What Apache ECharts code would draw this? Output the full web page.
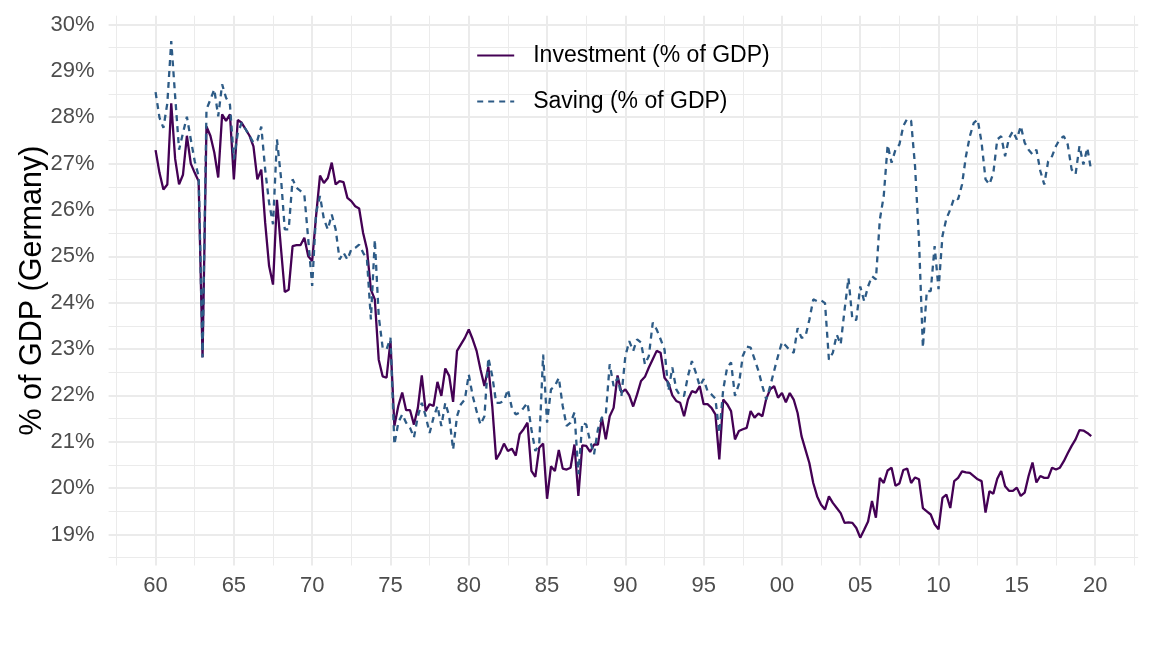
<!DOCTYPE html>
<html>
<head>
<meta charset="utf-8">
<script src="https://cdn.jsdelivr.net/npm/echarts@6/dist/echarts.min.js"></script>
<style>
  html, body { margin: 0; padding: 0; background: #ffffff; }
  #chart { width: 1152px; height: 648px; }
</style>
</head>
<body>
<div id="chart"></div>
<script>
// Quarterly data, 1960Q1 .. 2019Q4 (Germany, % of GDP)
const startYear = 1960;
const investment = [
  27.29, 26.80, 26.44, 26.55, 28.30, 27.10, 26.55, 26.76, 27.60, 27.00, 26.80, 26.62,
  22.82, 27.80, 27.60, 27.24, 26.70, 28.06, 27.92, 28.06, 26.66, 27.94, 27.88, 27.74,
  27.60, 27.37, 26.66, 26.87, 25.72, 24.79, 24.39, 26.22, 25.20, 24.23, 24.28, 25.22,
  25.24, 25.24, 25.40, 25.00, 24.90, 25.87, 26.74, 26.58, 26.69, 27.02, 26.55, 26.62,
  26.60, 26.26, 26.19, 26.08, 26.03, 25.51, 25.15, 24.28, 24.07, 22.77, 22.41, 22.38,
  23.17, 21.34, 21.77, 22.06, 21.68, 21.68, 21.37, 21.73, 22.43, 21.66, 21.81, 21.77,
  22.29, 21.99, 22.58, 22.42, 21.86, 22.96, 23.10, 23.24, 23.42, 23.21, 22.96, 22.56,
  22.20, 22.62, 21.77, 20.62, 20.76, 20.96, 20.80, 20.85, 20.70, 21.16, 21.27, 21.41,
  20.37, 20.24, 20.87, 20.96, 19.77, 20.47, 20.37, 20.82, 20.42, 20.40, 20.44, 20.94,
  19.83, 20.92, 20.91, 20.78, 20.94, 20.94, 21.52, 21.05, 21.55, 21.73, 22.43, 22.06,
  22.13, 22.00, 21.76, 22.02, 22.31, 22.40, 22.60, 22.78, 22.96, 22.92, 22.38, 22.27,
  22.00, 21.88, 21.84, 21.55, 21.91, 22.09, 22.06, 22.20, 21.81, 21.81, 21.73, 21.59,
  20.62, 21.91, 21.81, 21.66, 21.05, 21.23, 21.27, 21.30, 21.66, 21.52, 21.61, 21.55,
  21.93, 22.13, 22.20, 21.95, 22.05, 21.85, 22.05, 21.91, 21.62, 21.12, 20.83, 20.54,
  20.11, 19.82, 19.64, 19.54, 19.82, 19.68, 19.57, 19.46, 19.25, 19.26, 19.25, 19.14,
  18.93, 19.10, 19.28, 19.72, 19.36, 20.22, 20.11, 20.38, 20.44, 20.05, 20.10, 20.39,
  20.42, 20.11, 20.23, 20.19, 19.57, 19.50, 19.43, 19.22, 19.11, 19.79, 19.86, 19.57,
  20.15, 20.22, 20.36, 20.34, 20.33, 20.26, 20.19, 20.15, 19.47, 19.93, 19.88, 20.20,
  20.37, 20.04, 19.94, 19.94, 20.01, 19.83, 19.90, 20.26, 20.55, 20.12, 20.26, 20.22,
  20.22, 20.44, 20.40, 20.44, 20.58, 20.75, 20.91, 21.05, 21.25, 21.24, 21.19, 21.12
];
const saving = [
  28.54, 27.99, 27.77, 28.30, 29.64, 28.45, 27.30, 27.66, 28.01, 27.52, 27.05, 26.73,
  22.82, 28.17, 28.38, 28.60, 28.02, 28.71, 28.42, 28.27, 27.09, 27.66, 27.88, 27.74,
  27.60, 27.45, 27.50, 27.80, 26.87, 26.15, 25.69, 27.52, 26.73, 25.58, 25.58, 26.66,
  26.48, 26.41, 26.33, 25.36, 24.36, 25.94, 26.30, 25.80, 25.58, 25.90, 25.58, 24.93,
  25.08, 24.93, 25.15, 25.18, 25.25, 25.08, 24.93, 23.64, 25.36, 23.71, 23.03, 22.99,
  23.24, 20.94, 21.41, 21.59, 21.41, 21.30, 21.09, 21.55, 21.84, 21.55, 21.19, 21.52,
  21.77, 21.34, 21.84, 21.55, 20.83, 21.55, 21.81, 21.91, 22.45, 21.99, 21.66, 21.37,
  21.55, 22.81, 22.42, 21.84, 21.84, 21.88, 22.13, 21.73, 21.59, 21.63, 21.73, 21.84,
  21.27, 20.80, 20.95, 22.88, 21.41, 22.13, 22.20, 22.38, 21.77, 21.34, 21.41, 21.63,
  20.30, 21.41, 21.37, 21.01, 20.73, 21.27, 21.52, 21.59, 22.67, 22.20, 22.38, 21.99,
  22.85, 23.17, 22.96, 23.21, 23.14, 22.67, 22.85, 23.57, 23.42, 23.21, 22.99, 22.10,
  22.60, 22.13, 21.99, 21.99, 22.42, 22.74, 22.49, 22.20, 22.35, 22.09, 22.02, 21.93,
  21.19, 22.13, 22.60, 22.71, 21.99, 22.24, 22.85, 23.05, 23.03, 22.78, 22.53, 22.20,
  21.91, 22.20, 22.53, 22.85, 23.15, 23.07, 22.97, 22.92, 23.45, 23.24, 23.27, 23.63,
  24.07, 24.03, 24.05, 23.99, 22.77, 22.92, 23.31, 23.10, 23.85, 24.53, 23.63, 23.63,
  24.35, 24.03, 24.35, 24.57, 24.50, 25.79, 26.30, 27.40, 27.02, 27.30, 27.41, 27.81,
  27.97, 27.92, 26.94, 25.36, 23.03, 24.25, 24.25, 25.22, 24.29, 25.44, 25.81, 26.01,
  26.26, 26.23, 26.55, 27.16, 27.59, 27.88, 27.95, 27.45, 26.66, 26.55, 26.80, 27.52,
  27.59, 27.16, 27.55, 27.70, 27.52, 27.81, 27.45, 27.30, 27.20, 27.30, 26.84, 26.55,
  27.05, 27.16, 27.38, 27.53, 27.59, 27.41, 26.87, 26.77, 27.38, 26.98, 27.34, 26.84
];
const seriesNames = ['Investment (% of GDP)', 'Saving (% of GDP)'];
const xTickValues = [1960, 1965, 1970, 1975, 1980, 1985, 1990, 1995, 2000, 2005, 2010, 2015, 2020];
const xTickLabels = ['60', '65', '70', '75', '80', '85', '90', '95', '00', '05', '10', '15', '20'];
const xMinorValues = [1957.5, 1962.5, 1967.5, 1972.5, 1977.5, 1982.5, 1987.5, 1992.5, 1997.5, 2002.5, 2007.5, 2012.5, 2017.5, 2022.5];
const yTickValues = [19, 20, 21, 22, 23, 24, 25, 26, 27, 28, 29, 30];
const yMinorValues = [18.5, 19.5, 20.5, 21.5, 22.5, 23.5, 24.5, 25.5, 26.5, 27.5, 28.5, 29.5];
const yTitle = '% of GDP (Germany)';

const toPoints = arr => arr.map((v, i) => [startYear + i / 4, v]);
const FONT = '"Liberation Sans", Arial, Helvetica, sans-serif';
const GRID = '#EBEBEB';
const xMin = 1957.0, xMax = 2022.75, yMin = 18.33, yMax = 30.19;

const chart = echarts.init(document.getElementById('chart'), null, { renderer: 'canvas' });
chart.setOption({
  backgroundColor: '#ffffff',
  animation: false,
  textStyle: { fontFamily: FONT },
  grid: { left: 108.6, top: 15.7, right: 13.8, bottom: 82.5, containLabel: false },
  legend: {
    orient: 'vertical',
    left: 471.2,
    top: 39,
    itemWidth: 37,
    itemHeight: 1,
    itemGap: 23,
    data: seriesNames,
    itemStyle: { opacity: 0 },
    textStyle: { fontSize: 23, color: '#000000', fontFamily: FONT, padding: [0, 0, 0, 14] }
  },
  xAxis: [
    {
      type: 'value', min: xMin, max: xMax,
      axisLine: { show: false },
      axisTick: { show: false, customValues: xTickValues },
      axisLabel: {
        customValues: xTickValues,
        formatter: v => { const i = xTickValues.indexOf(Math.round(v)); return i >= 0 ? xTickLabels[i] : ''; },
        fontSize: 22, color: '#4D4D4D', margin: 9, fontFamily: FONT
      },
      splitLine: { show: true, lineStyle: { color: GRID, width: 2 } }
    },
    {
      type: 'value', min: xMin, max: xMax, position: 'bottom',
      axisLine: { show: false },
      axisTick: { show: false, customValues: xMinorValues },
      axisLabel: { show: false, customValues: xMinorValues },
      splitLine: { show: true, lineStyle: { color: GRID, width: 1 } }
    }
  ],
  yAxis: [
    {
      type: 'value', min: yMin, max: yMax,
      name: yTitle, nameLocation: 'middle', nameGap: 61, nameRotate: 90,
      nameMoveOverlap: false,
      nameTextStyle: { fontSize: 30.5, color: '#000000', fontFamily: FONT },
      axisLine: { show: false },
      axisTick: { show: false, customValues: yTickValues },
      axisLabel: {
        customValues: yTickValues,
        formatter: v => Math.round(v) + '%',
        fontSize: 22, color: '#4D4D4D', margin: 14, fontFamily: FONT
      },
      splitLine: { show: true, lineStyle: { color: GRID, width: 2 } }
    },
    {
      type: 'value', min: yMin, max: yMax, position: 'left',
      axisLine: { show: false },
      axisTick: { show: false, customValues: yMinorValues },
      axisLabel: { show: false, customValues: yMinorValues },
      splitLine: { show: true, lineStyle: { color: GRID, width: 1 } }
    }
  ],
  series: [
    {
      name: seriesNames[0], type: 'line', data: toPoints(investment),
      xAxisIndex: 0, yAxisIndex: 0,
      symbol: 'none', smooth: false,
      lineStyle: { color: '#440154', width: 2.3 },
      itemStyle: { color: '#440154' }
    },
    {
      name: seriesNames[1], type: 'line', data: toPoints(saving),
      xAxisIndex: 0, yAxisIndex: 0,
      symbol: 'none', smooth: false,
      lineStyle: { color: '#2D5B86', width: 2.3, type: [6, 5] },
      itemStyle: { color: '#2D5B86' }
    }
  ]
});
</script>
</body>
</html>
